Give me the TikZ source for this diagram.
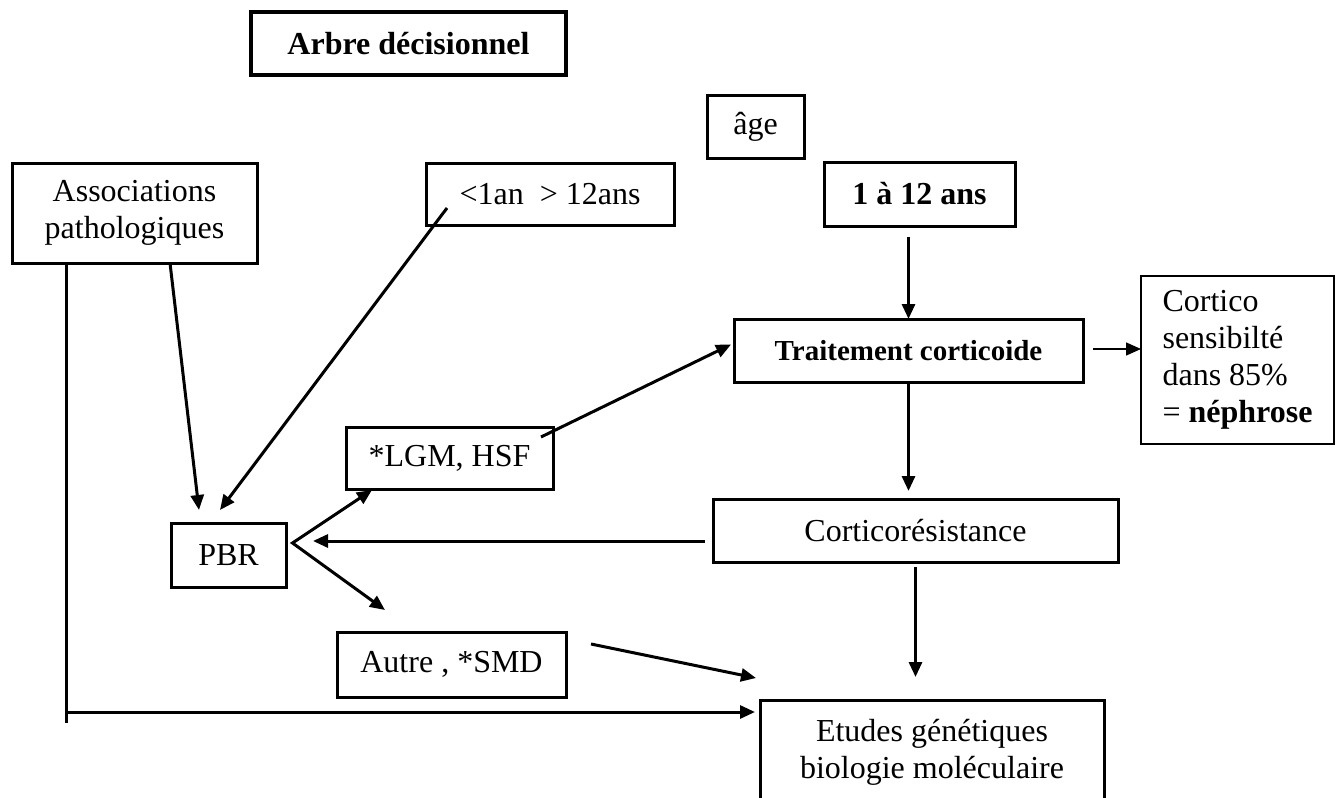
\documentclass[tikz,border=0pt]{standalone}
\usepackage{fontspec}
\setmainfont{Liberation Serif}
\usetikzlibrary{arrows.meta,calc}

\begin{document}
\begin{tikzpicture}[
  x=1pt, y=-1pt,
  >={Triangle[length=15pt,width=13pt]},
  box/.style={rectangle, draw, line width=3pt, inner sep=0pt, outer sep=0pt, align=center,
    font=\fontsize{32}{37}\selectfont},
  boldbox/.style={box, font=\fontsize{32}{37}\selectfont\bfseries},
  thinbox/.style={box, line width=1.3pt, align=left},
  link/.style={draw, line width=3pt, ->},
  thinlink/.style={link, line width=1.5pt}
]
  \useasboundingbox (0,0) rectangle (1339,798);

  \node[boldbox, line width=3.5pt, minimum width=315pt, minimum height=63pt] (title) at (408.5,43.5) {Arbre décisionnel};
  \node[box, minimum width=97pt, minimum height=63pt] (age) at (755.5,126.5) {âge};
  \node[box, minimum width=248pt, minimum height=62pt] (young) at (550,194) {<1an~ > 12ans};
  \node[boldbox, minimum width=191pt, minimum height=64pt] (range) at (919.5,194) {1 à 12 ans};
  \node[box, minimum width=245pt, minimum height=100pt] (assoc) at (134.5,213) {Associations\\pathologiques};
  \node[boldbox, minimum width=349pt, minimum height=63pt, font=\fontsize{29}{34}\selectfont\bfseries] (trait) at (908.5,350.5) {Traitement corticoide};
  \node[thinbox, minimum width=193pt, minimum height=168pt] (cortico) at (1237.5,360) {Cortico\\sensibilté\\dans 85\%\\= \textbf{néphrose}};
  \node[box, minimum width=207pt, minimum height=62pt] (lgm) at (449.5,458) {*LGM, HSF};
  \node[box, minimum width=405pt, minimum height=63pt] (resist) at (915.5,530.5) {Corticorésistance};
  \node[box, minimum width=115pt, minimum height=64pt] (pbr) at (228.5,555) {PBR};
  \node[box, minimum width=229pt, minimum height=65pt] (autre) at (451.5,664.5) {Autre , *SMD};
  \node[box, minimum width=344pt, minimum height=104pt] (etudes) at (932,752) {Etudes génétiques\\biologie moléculaire};

  \draw[link] ($(range.south -| trait.north)+(0,11)$) -- (trait.north);
  \draw[thinlink] ($(trait.east)+(10,-1.5)$) -- ($(cortico.west)+(0,-11)$);
  \draw[link] (trait.south) -- ($(trait.south |- resist.north)+(0,-8)$);
  \draw[link] ($(resist.south)+(0,5)$) -- ($(resist.south |- etudes.north)+(0,-23)$);
  \draw[link] ($(resist.west)+(-8,10.5)$) -- ($(pbr.east)+(27,-14)$);
  \draw[link] ($(lgm.north east)+(-12,10)$) -- ($(trait.west)+(-3,-6)$);
  \draw[link] ($(assoc.south)+(35.5,0)$) -- ($(pbr.north)+(-29.5,-13)$);
  \draw[link] ($(young.south west)+(21,-17)$) -- ($(pbr.north)+(-8.5,-13)$);
  \coordinate (fork) at ($(pbr.east)+(6.5,-12)$);
  \draw[link, <->] ($(lgm.south west)+(26,1)$) -- (fork) -- ($(autre.north west)+(48,-22)$);
  \draw[link] ($(autre.north east)+(25,12)$) -- ($(etudes.north west)+(-4,-22)$);
  \coordinate (elbow) at ($(assoc.south west)+(54,449)$);
  \draw[line width=3pt] ($(assoc.south west)+(54,0)$) -- ++(0,460);
  \draw[link] (elbow) -- ($(etudes.north west)+(-5,12)$);
\end{tikzpicture}
\end{document}
